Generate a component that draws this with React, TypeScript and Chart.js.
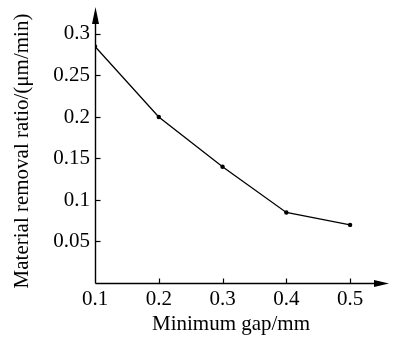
import React, { useEffect, useRef } from "react";
import { Chart, registerables } from "chart.js";

Chart.register(...registerables);

const gaps = [0.1, 0.2, 0.3, 0.4, 0.5];
const removalRatio = [0.285, 0.2, 0.14, 0.085, 0.07];
const xTickValues = [0.1, 0.2, 0.3, 0.4, 0.5];
const yTickValues = [0.05, 0.1, 0.15, 0.2, 0.25, 0.3];
const xTitle = "Minimum gap/mm";
const yTitle = "Material removal ratio/(μm/min)";

const FONT = "'Liberation Serif', 'Times New Roman', serif";
const FONT_SIZE = 21;

const axesPlugin = {
  id: "arrowAxes",
  afterDraw(chart: any) {
    const ctx = chart.ctx;
    const { right, top } = chart.chartArea;
    const xs = chart.scales.x;
    const ys = chart.scales.y;
    const x0 = Math.round(xs.getPixelForValue(0.1)) + 0.5;
    const y0 = Math.round(ys.getPixelForValue(0)) + 0.5;
    ctx.save();
    ctx.strokeStyle = "#000";
    ctx.fillStyle = "#000";
    ctx.lineWidth = 1.4;
    ctx.beginPath();
    ctx.moveTo(x0, y0);
    ctx.lineTo(x0, top + 8);
    ctx.stroke();
    ctx.beginPath();
    ctx.moveTo(x0, y0);
    ctx.lineTo(right - 8, y0);
    ctx.stroke();
    ctx.beginPath();
    ctx.moveTo(x0, top);
    ctx.lineTo(x0 - 3.5, top + 17);
    ctx.lineTo(x0 + 3.5, top + 17);
    ctx.closePath();
    ctx.fill();
    ctx.beginPath();
    ctx.moveTo(right, y0);
    ctx.lineTo(right - 15, y0 - 3.5);
    ctx.lineTo(right - 15, y0 + 3.5);
    ctx.closePath();
    ctx.fill();
    ctx.lineWidth = 1.2;
    xTickValues.forEach((v) => {
      if (v === 0.1) return;
      const px = Math.round(xs.getPixelForValue(v)) + 0.5;
      ctx.beginPath();
      ctx.moveTo(px, y0);
      ctx.lineTo(px, y0 - 5);
      ctx.stroke();
    });
    yTickValues.forEach((v) => {
      const py = Math.round(ys.getPixelForValue(v)) + 0.5;
      ctx.beginPath();
      ctx.moveTo(x0, py);
      ctx.lineTo(x0 + 5, py);
      ctx.stroke();
    });
    ctx.font = `${FONT_SIZE}px ${FONT}`;
    ctx.textAlign = "center";
    ctx.textBaseline = "middle";
    ctx.fillText(xTitle, 231, 324);
    ctx.translate(22, 151);
    ctx.rotate(-Math.PI / 2);
    ctx.fillText(yTitle, 0, 0);
    ctx.restore();
  },
};

export default function App() {
  const ref = useRef<HTMLCanvasElement>(null);
  useEffect(() => {
    const chart = new Chart(ref.current as HTMLCanvasElement, {
      type: "line",
      data: {
        datasets: [
          {
            data: gaps.map((g, i) => ({ x: g, y: removalRatio[i] })),
            borderColor: "#000",
            backgroundColor: "#000",
            borderWidth: 1.3,
            pointRadius: 2.2,
            pointBorderWidth: 0,
            tension: 0,
          },
        ],
      },
      options: {
        animation: false,
        responsive: false,
        devicePixelRatio: 1,
        layout: { padding: { top: 7, right: 3, left: 0, bottom: 0 } },
        plugins: { legend: { display: false }, tooltip: { enabled: false } },
        scales: {
          x: {
            type: "linear",
            min: 0.1,
            max: 0.561,
            grid: { display: false, drawTicks: false },
            border: { display: false },
            afterBuildTicks: (s: any) => {
              s.ticks = xTickValues.map((v) => ({ value: v }));
            },
            afterFit: (s: any) => {
              s.height = 54;
              s.paddingLeft = 0;
              s.paddingRight = 0;
            },
            ticks: {
              color: "#000",
              padding: 4,
              font: { family: FONT, size: FONT_SIZE },
              callback: (v: any) => String(Number(v)),
              maxRotation: 0,
            },
          },
          y: {
            type: "linear",
            min: 0,
            max: 0.3325,
            grid: { display: false, drawTicks: false },
            border: { display: false },
            afterBuildTicks: (s: any) => {
              s.ticks = yTickValues.map((v) => ({ value: v }));
            },
            afterFit: (s: any) => {
              s.width = 95;
              s.paddingTop = 0;
              s.paddingBottom = 0;
            },
            ticks: {
              color: "#000",
              padding: 5,
              font: { family: FONT, size: FONT_SIZE },
              callback: (v: any) => String(Number(v)),
            },
          },
        },
      },
      plugins: [axesPlugin],
    });
    return () => chart.destroy();
  }, []);
  return (
    <div style={{ position: "fixed", left: 0, top: 0, width: 393, height: 337, background: "#fff" }}>
      <canvas ref={ref} width={393} height={337} style={{ width: 393, height: 337 }} />
    </div>
  );
}
